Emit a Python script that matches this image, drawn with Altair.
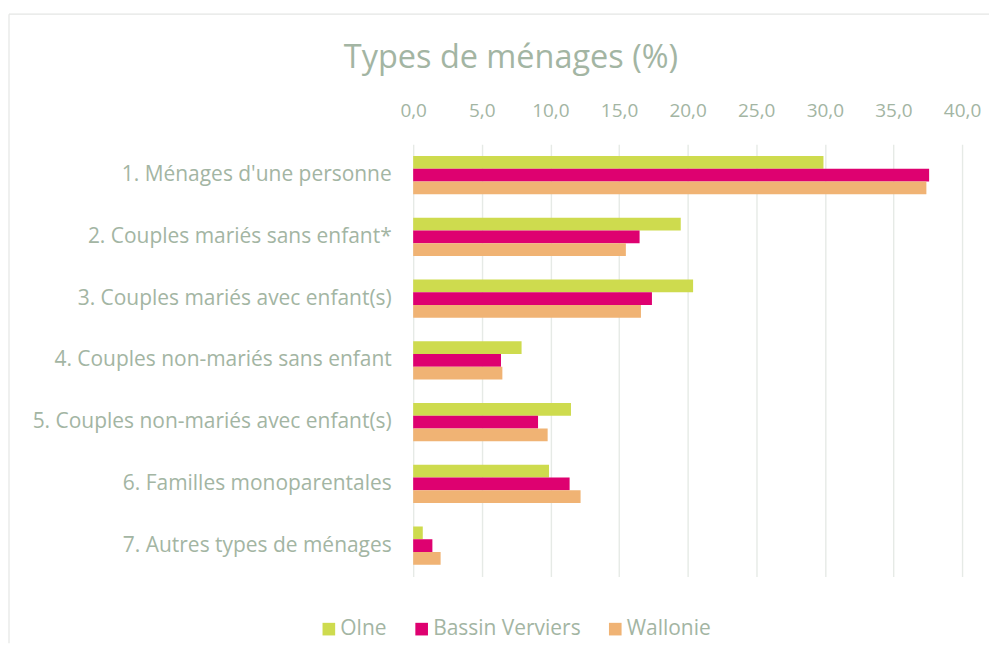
import altair as alt
import pandas as pd

categories = [
    "1. Ménages d'une personne",
    "2. Couples mariés sans enfant*",
    "3. Couples mariés avec enfant(s)",
    "4. Couples non-mariés sans enfant",
    "5. Couples non-mariés avec enfant(s)",
    "6. Familles monoparentales",
    "7. Autres types de ménages",
]
series = ["Olne", "Bassin Verviers", "Wallonie"]
olne = [29.9, 19.5, 20.4, 7.9, 11.5, 9.9, 0.7]
bassin = [37.6, 16.5, 17.4, 6.4, 9.1, 11.4, 1.4]
wallonie = [37.4, 15.5, 16.6, 6.5, 9.8, 12.2, 2.0]
colors = ["#CEDB4E", "#DE0170", "#F0B374"]
x_ticks = [0, 5, 10, 15, 20, 25, 30, 35, 40]
title_text = ["Types de ménages (%)"]

rows = []
for s, vals in zip(series, [olne, bassin, wallonie]):
    for c, v in zip(categories, vals):
        rows.append({"Type": c, "Zone": s, "Valeur": v})
df = pd.DataFrame(rows)

TEXT = "#A3B5A3"
FONT = "Open Sans"

bars = alt.Chart(df).mark_bar().encode(
    y=alt.Y(
        "Type:N",
        sort=categories,
        scale=alt.Scale(paddingInner=0.38, paddingOuter=0.19),
        axis=alt.Axis(
            title=None, ticks=False, domain=False, labelPadding=22,
            labelFontSize=21, labelColor=TEXT, labelFont=FONT, labelLimit=420,
        ),
    ),
    yOffset=alt.YOffset("Zone:N", sort=series, scale=alt.Scale(domain=series)),
    x=alt.X(
        "Valeur:Q",
        scale=alt.Scale(domain=[0, 40], nice=False),
        axis=alt.Axis(
            orient="top", title=None, values=x_ticks, ticks=False, domain=False,
            labelExpr="replace(format(datum.value, '.1f'), '.', ',')",
            labelFontSize=19, labelColor=TEXT, labelFont=FONT, labelPadding=24,
            labelFlush=False, labelOverlap=False,
            grid=True, gridColor="#E6EAE6", gridWidth=1.4,
        ),
    ),
    color=alt.Color(
        "Zone:N",
        sort=series,
        scale=alt.Scale(domain=series, range=colors),
        legend=alt.Legend(
            title=None, orient="none", direction="horizontal",
            legendX=-95, legendY=475, symbolType="square", symbolSize=160,
            symbolStrokeWidth=0, labelFontSize=21, labelColor=TEXT, labelFont=FONT,
            labelOffset=1, columnPadding=24,
        ),
    ),
)

frame_df = pd.DataFrame({"a": [0]})
top_rule = alt.Chart(frame_df).mark_rule(color="#E4E6E4", strokeWidth=1.2).encode(
    x=alt.value(-405), x2=alt.value(577), y=alt.value(-130.5)
)
left_rule = alt.Chart(frame_df).mark_rule(color="#E4E6E4", strokeWidth=1.2).encode(
    x=alt.value(-405), y=alt.value(-130.5), y2=alt.value(500)
)
title = alt.Chart(pd.DataFrame({"t": title_text})).mark_text(
    font=FONT, fontSize=32.5, color=TEXT, align="center", baseline="alphabetic"
).encode(text="t:N", x=alt.value(98), y=alt.value(-77))

chart = alt.layer(top_rule, left_rule, title, bars).properties(
    width=550,
    height=433,
    padding={"left": 0, "top": 4, "right": 0, "bottom": 0},
    background="white",
).configure_view(stroke=None)

chart.save("out.html", embed_options={"renderer": "svg", "actions": False})
